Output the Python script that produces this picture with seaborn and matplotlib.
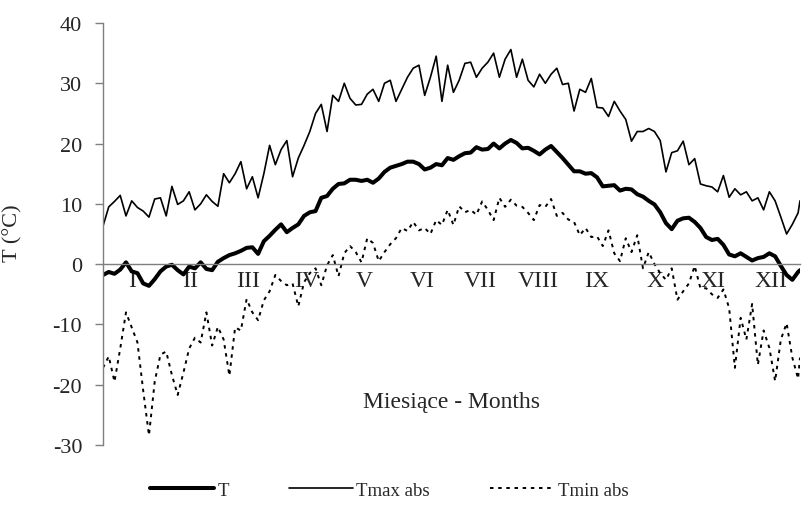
import matplotlib
matplotlib.use("Agg")
import matplotlib.pyplot as plt
import seaborn as sns
import pandas as pd
from matplotlib.lines import Line2D

# ---- data (every 3rd day of the year) ----
days = list(range(1, 365, 3)) + [365]

t_mean = [
    -1.8, -1.3, -1.6, -0.9, 0.3, -1.2, -1.5, -3.2, -3.6, -2.5,
    -1.2, -0.4, -0.1, -1.0, -1.7, -0.4, -0.7, 0.3, -0.8, -1.0,
    0.4, 1.0, 1.5, 1.8, 2.2, 2.7, 2.8, 1.7, 3.8, 4.7,
    5.7, 6.6, 5.3, 6.0, 6.6, 8.0, 8.6, 8.8, 11.0, 11.3,
    12.5, 13.3, 13.4, 14.0, 14.0, 13.8, 14.0, 13.5, 14.2, 15.3,
    16.0, 16.3, 16.6, 17.0, 17.0, 16.6, 15.7, 16.0, 16.6, 16.4,
    17.6, 17.3, 17.9, 18.4, 18.5, 19.4, 19.0, 19.1, 20.0, 19.2,
    20.0, 20.6, 20.1, 19.2, 19.3, 18.8, 18.2, 19.0, 19.6, 18.6,
    17.6, 16.5, 15.4, 15.4, 15.0, 15.1, 14.4, 12.9, 13.0, 13.1,
    12.2, 12.5, 12.4, 11.6, 11.2, 10.5, 9.9, 8.6, 6.8, 5.8,
    7.2, 7.6, 7.7, 7.0, 6.0, 4.5, 4.0, 4.2, 3.2, 1.6,
    1.3, 1.8, 1.2, 0.6, 1.0, 1.2, 1.8, 1.3, -0.3, -1.8,
    -2.6, -1.3, -1.0,
]

t_max = [
    6.3, 9.5, 10.4, 11.4, 8.0, 10.5, 9.4, 8.8, 7.8, 10.8,
    11.0, 8.0, 12.9, 9.9, 10.5, 12.0, 9.0, 10.0, 11.5, 10.4,
    9.6, 15.0, 13.5, 15.0, 17.0, 12.5, 14.5, 11.0, 15.0, 19.7,
    16.5, 19.0, 20.5, 14.5, 17.6, 19.7, 22.0, 25.0, 26.5, 22.0,
    28.0, 27.0, 30.0, 27.5, 26.4, 26.5, 28.2, 29.0, 27.0, 30.0,
    30.5, 27.0, 29.0, 31.0, 32.5, 33.0, 28.0, 31.0, 34.5, 27.0,
    33.0, 28.5, 30.5, 33.3, 33.5, 31.0, 32.5, 33.5, 35.0, 31.0,
    34.0, 35.6, 31.0, 34.0, 30.5, 29.4, 31.5, 30.0, 31.5, 32.5,
    29.8, 30.0, 25.4, 29.0, 28.5, 30.8, 26.0, 25.9, 24.5, 27.0,
    25.4, 24.0, 20.4, 22.0, 22.0, 22.5, 22.0, 20.5, 15.3, 18.5,
    18.8, 20.4, 16.5, 17.5, 13.3, 13.0, 12.8, 12.0, 14.7, 11.1,
    12.5, 11.5, 12.0, 10.5, 11.0, 9.0, 12.0, 10.5, 7.8, 5.0,
    6.6, 8.5, 10.5,
]

t_min = [
    -17.2, -15.3, -19.5, -14.0, -8.0, -10.5, -13.0, -21.0, -28.4, -19.5,
    -15.0, -14.5, -18.4, -21.7, -18.0, -14.0, -12.2, -13.0, -8.0, -13.5,
    -10.4, -12.5, -18.5, -10.5, -11.0, -5.8, -8.0, -9.3, -6.0, -4.5,
    -1.8, -2.8, -3.5, -3.2, -7.0, -3.0, -1.5, -0.7, -3.5, -0.2,
    1.5, -2.0, 1.8, 3.0, 2.0, 0.3, 4.3, 3.5, 0.5, 2.0,
    3.3, 4.3, 6.0, 5.5, 7.0, 5.6, 6.0, 5.0, 7.3, 6.5,
    9.0, 6.5, 9.6, 8.6, 9.0, 8.2, 10.4, 9.0, 7.3, 11.0,
    9.5, 10.7, 9.7, 9.5, 8.5, 7.3, 9.8, 9.5, 10.8, 8.0,
    8.5, 7.4, 7.0, 4.8, 6.0, 4.5, 4.6, 3.0, 5.6, 1.8,
    0.5, 4.3, 2.0, 4.8, -0.7, 2.0, 0.0, -1.5, -2.6, -0.7,
    -5.9, -4.5, -3.2, -0.3, -4.0, -4.0, -5.0, -5.6, -4.2, -7.3,
    -17.2, -8.9, -12.5, -6.6, -16.7, -11.0, -13.9, -19.4, -12.5, -9.8,
    -15.5, -19.0, -15.5,
]

month_labels = ["I", "II", "III", "IV", "V", "VI",
                "VII", "VIII", "IX", "X", "XI", "XII"]
y_ticks = [-30, -20, -10, 0, 10, 20, 30, 40]

df = pd.DataFrame({"day": days, "T": t_mean, "Tmax abs": t_max, "Tmin abs": t_min})

# ---- styling ----
sns.set_style("white")
plt.rcParams["font.family"] = ["Liberation Serif", "DejaVu Serif"]
GRAY = "#7f7f7f"
DOT = (0, (1.8, 2.4))

fig = plt.figure(figsize=(8.02, 5.06), dpi=100)
ax = fig.add_axes([103 / 802, 60 / 506, 697 / 802, 422 / 506])

sns.lineplot(data=df, x="day", y="Tmax abs", ax=ax, color="black", linewidth=1.2)
sns.lineplot(data=df, x="day", y="T", ax=ax, color="black", linewidth=2.9)
sns.lineplot(data=df, x="day", y="Tmin abs", ax=ax, color="black", linewidth=1.4,
             linestyle=DOT)

x0, x1 = 1, 365
ax.set_xlim(x0, x1)
ax.set_ylim(-30, 40)

step = (x1 - x0) / 12
ax.set_xticks([x0 + k * step for k in range(1, 12)])
ax.set_xticklabels([])
ax.set_xticks([x0 + (k + 0.5) * step for k in range(12)], minor=True)
ax.set_xticklabels(month_labels, minor=True)
ax.tick_params(axis="x", which="major", direction="out", length=6, width=1, color=GRAY)
ax.tick_params(axis="x", which="minor", length=0, pad=4, labelsize=17)

ax.set_yticks(y_ticks)
ax.set_yticklabels([str(v) for v in y_ticks])
ax.tick_params(axis="y", direction="out", length=6, width=1, color=GRAY, pad=9,
               left=True, labelsize=16)

for s in ["top", "right"]:
    ax.spines[s].set_visible(False)
ax.spines["bottom"].set_position(("data", 0))
ax.spines["bottom"].set_color(GRAY)
ax.spines["left"].set_color(GRAY)
ax.spines["bottom"].set_linewidth(1.0)
ax.spines["left"].set_linewidth(1.0)

ax.set_xlabel("")
ax.set_ylabel("T (°C)", fontsize=16)
ax.yaxis.set_label_coords((22 - 103) / 697, (446 - 233) / 422)
ax.text(0.5, (446 - 403) / 422, "Miesiące - Months",
        transform=ax.transAxes, ha="center", va="center", fontsize=17)

handles = [
    Line2D([], [], color="black", linewidth=2.9),
    Line2D([], [], color="black", linewidth=1.2),
    Line2D([], [], color="black", linewidth=1.4, linestyle=DOT),
]
fig.legend(handles, ["T", "Tmax abs", "Tmin abs"], loc="center",
           bbox_to_anchor=(389 / 802, 1 - 491 / 506), ncol=3, frameon=False,
           fontsize=13.5, handlelength=3.4, handletextpad=0.2, columnspacing=3.2)

fig.savefig("out.png", dpi=100)
